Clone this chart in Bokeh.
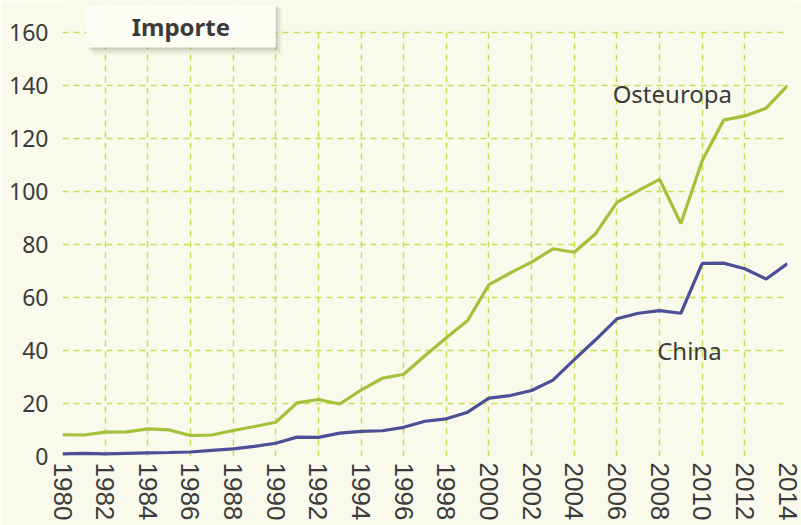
from bokeh.plotting import figure
from bokeh.models import Range1d, FixedTicker, BoxAnnotation, Label, ColumnDataSource
from bokeh.embed import file_html
from bokeh.resources import INLINE

years = list(range(1980, 2015))
osteuropa = [8.2, 8.1, 9.2, 9.3, 10.4, 10.0, 7.9, 8.1, 9.8, 11.3, 12.9, 20.2, 21.5, 19.8,
             25.0, 29.5, 31.0, 38.0, 44.8, 51.3, 64.8, 69.2, 73.3, 78.3, 77.0, 84.0,
             95.8, 100.2, 104.5, 87.8, 111.5, 126.8, 128.4, 131.3, 139.8]
china = [1.0, 1.2, 1.0, 1.2, 1.4, 1.5, 1.7, 2.3, 2.9, 3.8, 5.0, 7.3, 7.2, 8.8,
         9.5, 9.7, 11.0, 13.3, 14.2, 16.7, 22.0, 23.0, 24.9, 28.8, 36.5, 44.0,
         51.9, 54.0, 55.0, 54.0, 72.8, 72.9, 70.8, 66.9, 72.7]
x_ticks = list(range(1980, 2015, 2))
y_ticks = list(range(0, 161, 20))
title = "Importe"
series_labels = ["Osteuropa", "China"]

BG = "#f9faeb"
GREEN = "#a3c13a"
BLUE = "#4b4f97"
TXT = "#3b3b3b"

src = ColumnDataSource(dict(year=years, ost=osteuropa, chn=china))

# frame spans the full height above the x axis; the area above 160 is masked
p = figure(width=801, height=525, output_backend="svg", toolbar_location=None,
           x_range=Range1d(1980, 2014), y_range=Range1d(0, 171.9),
           min_border_left=62, min_border_right=14, min_border_top=0, min_border_bottom=69)
p.background_fill_color = BG
p.border_fill_color = BG
p.outline_line_color = None

p.xaxis.ticker = FixedTicker(ticks=x_ticks)
p.yaxis.ticker = FixedTicker(ticks=y_ticks)
for ax in (p.xaxis, p.yaxis):
    ax.axis_line_color = None
    ax.major_tick_line_color = None
    ax.minor_tick_line_color = None
    ax.major_tick_out = 0
    ax.major_tick_in = 0
    ax.minor_tick_out = 0
    ax.major_label_text_color = TXT
p.xaxis.major_label_orientation = "vertical"
p.xaxis.major_label_text_font = "Liberation Sans"
p.xaxis.major_label_text_font_size = "26px"
p.xaxis.major_label_standoff = 6
p.yaxis.major_label_text_font = "Noto Sans"
p.yaxis.major_label_text_font_size = "23px"
p.yaxis.major_label_standoff = 14

for g in (p.xgrid, p.ygrid):
    g.grid_line_color = "#c9de52"
    g.grid_line_width = 1.5
    g.grid_line_dash = "6 5"

p.line("year", "ost", source=src, line_color=GREEN, line_width=3.2)
p.line("year", "chn", source=src, line_color=BLUE, line_width=3.2)

# mask grid above the top tick
p.add_layout(BoxAnnotation(bottom=160.35, fill_color=BG, fill_alpha=1.0, line_color=None))

p.add_layout(Label(x=2008.6, y=137, text=series_labels[0], text_align="center",
                   text_baseline="middle", text_font="Noto Sans", text_font_size="24px",
                   text_color=TXT))
p.add_layout(Label(x=2009.4, y=40, text=series_labels[1], text_align="center",
                   text_baseline="middle", text_font="Noto Sans", text_font_size="24px",
                   text_color=TXT))

# title box with soft shadow
for off, a in ((0.30, 0.07), (0.20, 0.10), (0.10, 0.16)):
    p.add_layout(BoxAnnotation(left=1981.13 + off, right=1990.0 + off, bottom=154.2 - off * 9,
                               top=170 - off * 3, fill_color="#6b6b5a", fill_alpha=a, line_color=None))
p.add_layout(BoxAnnotation(left=1981.13, right=1990.0, bottom=154.2, top=170,
                           fill_color="#fdfdf6", fill_alpha=1.0, line_color=None))
p.add_layout(Label(x=1985.55, y=162.2, text=title, text_align="center", text_baseline="middle",
                   text_font="Noto Sans", text_font_size="24px", text_font_style="bold",
                   text_color=TXT))

html = file_html(p, INLINE)
html = html.replace("<body>", '<body style="background-color:%s;">' % BG, 1)
open("out.html", "w").write(html)
